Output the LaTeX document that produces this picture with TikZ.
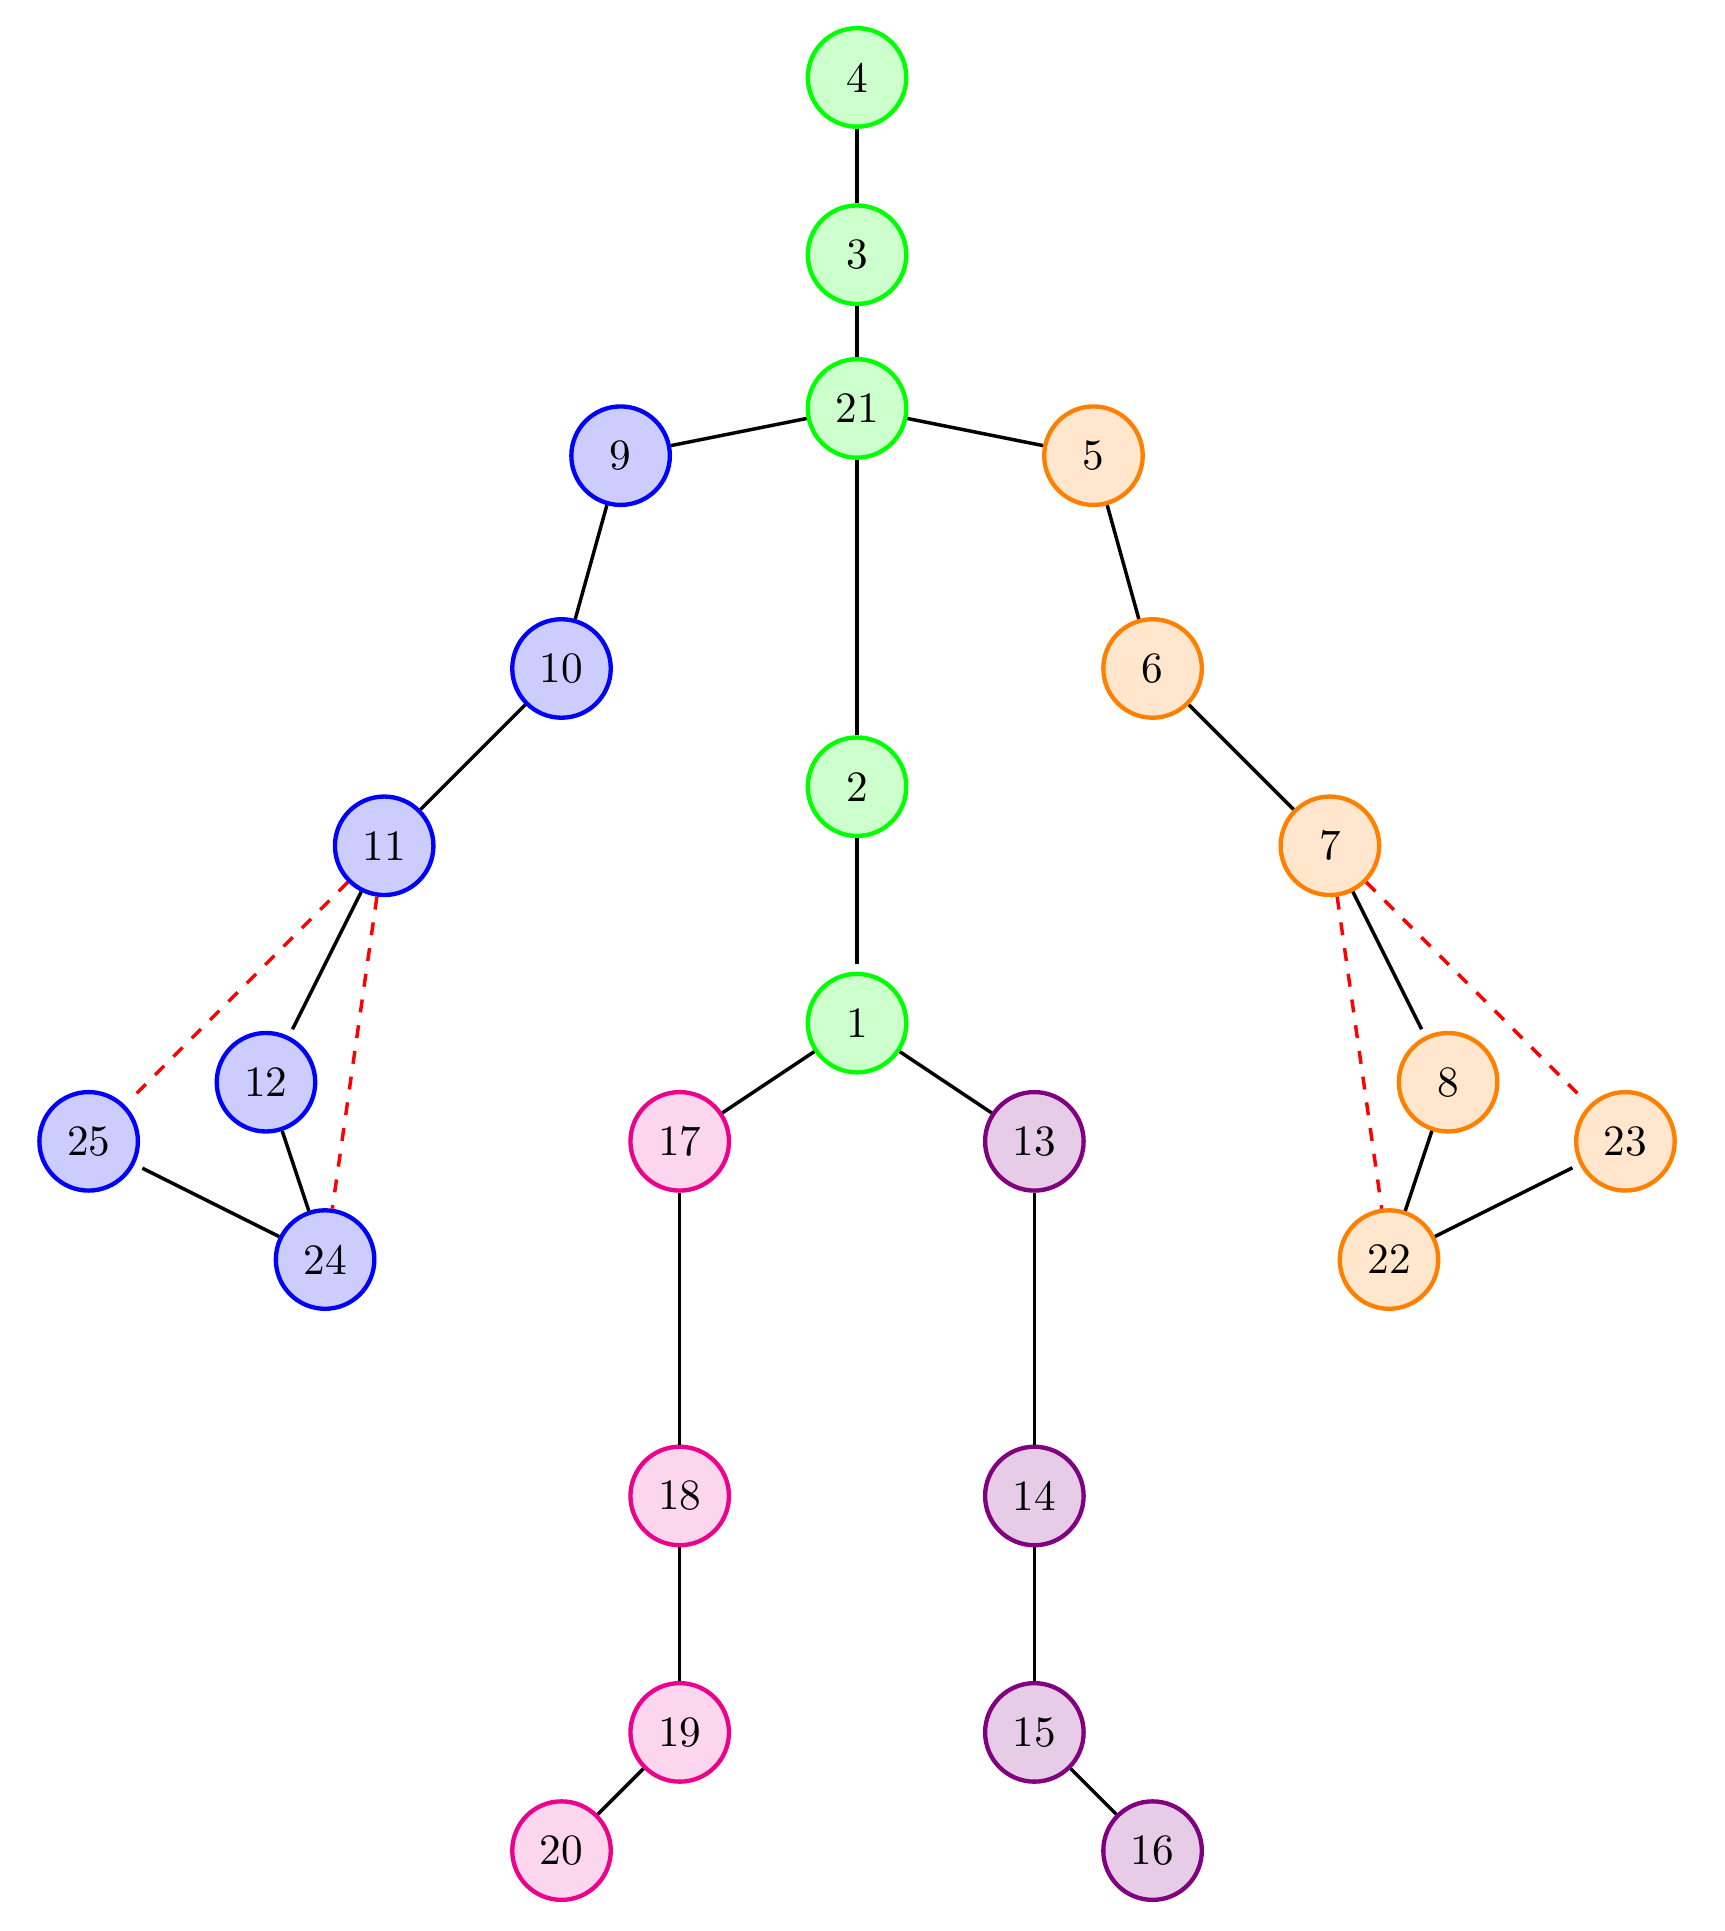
\documentclass[tikz,border=0pt]{standalone}
\usepackage{tikz}
\definecolor{skgreen}{HTML}{00FF00}
\definecolor{skblue}{HTML}{0000FF}
\definecolor{skorange}{HTML}{FF8000}
\definecolor{skpink}{HTML}{EC008C}
\definecolor{skviolet}{HTML}{800080}

\begin{document}
\begin{tikzpicture}[x=0.48cm, y=0.48cm,
    joint/.style={circle, line width=1pt, minimum size=0.8cm, inner sep=0pt},
    bone/.style={thick},
    link/.style={thick, dashed, red}]
  \useasboundingbox (-14.50,-15.36) rectangle (14.68,17.31);
  % spine and head
  \foreach \n/\x/\y in {4/0/16, 3/0/13, 21/0/10.4, 2/0/4, 1/0/0}{
    \node[joint, draw=skgreen, fill=skgreen!20] (j\n) at (\x,\y) {\n};
  }
  % left arm
  \foreach \n/\x/\y in {9/-4/9.6, 10/-5/6, 11/-8/3, 12/-10/-1, 25/-13/-2, 24/-9/-4}{
    \node[joint, draw=skblue, fill=skblue!20] (j\n) at (\x,\y) {\n};
  }
  % right arm
  \foreach \n/\x/\y in {5/4/9.6, 6/5/6, 7/8/3, 8/10/-1, 23/13/-2, 22/9/-4}{
    \node[joint, draw=skorange, fill=skorange!20] (j\n) at (\x,\y) {\n};
  }
  % legs
  \foreach \n/\x/\y in {17/-3/-2, 18/-3/-8, 19/-3/-12, 20/-5/-14}{
    \node[joint, draw=skpink, fill=skpink!16] (j\n) at (\x,\y) {\n};
  }
  \foreach \n/\x/\y in {13/3/-2, 14/3/-8, 15/3/-12, 16/5/-14}{
    \node[joint, draw=skviolet, fill=skviolet!20] (j\n) at (\x,\y) {\n};
  }
  % bones
  \foreach \a/\b in {4/3, 3/21, 21/9, 21/5, 21/2, 9/10, 10/11, 12/24, 5/6, 6/7,
                     8/22, 1/17, 1/13, 17/18, 18/19, 19/20, 13/14, 14/15, 15/16}{
    \draw[bone] (j\a) -- (j\b);
  }
  \foreach \a/\b in {2/1, 11/12, 7/8, 22/23}{
    \draw[bone, shorten >=1.8pt] (j\a) -- (j\b);
  }
  \draw[bone, shorten <=2pt] (j25) -- (j24);
  % hand links
  \draw[link, shorten >=1.5pt] (j11) -- (j25);
  \draw[link] (j11) -- (j24);
  \draw[link] (j7) -- (j22);
  \draw[link, shorten >=1.5pt] (j7) -- (j23);
\end{tikzpicture}
\end{document}
